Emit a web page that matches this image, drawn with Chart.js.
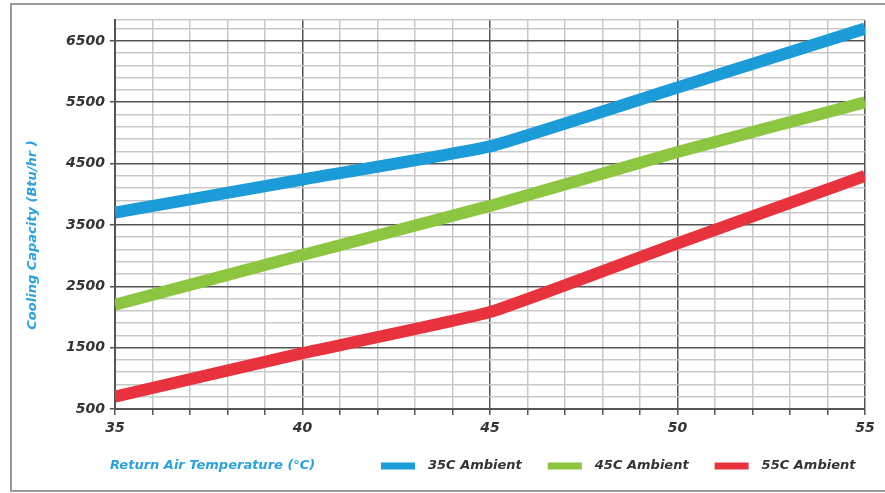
<!DOCTYPE html>
<html>
<head>
<meta charset="utf-8">
<script src="https://cdn.jsdelivr.net/npm/chart.js@4.4.1/dist/chart.umd.min.js"></script>
<style>
  html, body { margin: 0; padding: 0; background: #fff; }
  #wrap { width: 885px; height: 493px; position: relative; }
</style>
</head>
<body>
<div id="wrap"><canvas id="capacity-chart"></canvas></div>
<script>
var TEMPS = [35, 40, 45, 50, 55];
var CAP_35 = [3700, 4240, 4780, 5740, 6700];
var CAP_45 = [2200, 3010, 3810, 4690, 5500];
var CAP_55 = [700, 1410, 2080, 3200, 4300];

var SERIES_LABELS = ['35C Ambient', '45C Ambient', '55C Ambient'];
var SERIES_COLORS = ['#1b9bd7', '#8cc540', '#e8323e'];

var X_LABELS = [35, 40, 45, 50, 55];
var Y_LABELS = [500, 1500, 2500, 3500, 4500, 5500, 6500];
var Y_MIN = 500;
var Y_MAX = 6840;
var Y_STEP = 200;

var X_TITLE = 'Return Air Temperature (°C)';
var Y_TITLE = 'Cooling Capacity (Btu/hr )';

var TICK_FONT = { family: 'DejaVu Sans', size: 14, weight: 'bold', style: 'italic' };
var TITLE_BLUE = '#2ba2dc';
var MAJOR = '#555555';
var MINOR = '#c9c9c9';

function toPoints(values) {
  return values.map(function (v, i) { return { x: TEMPS[i], y: v }; });
}

function makeDataset(i, values) {
  return {
    label: SERIES_LABELS[i],
    data: toPoints(values),
    borderColor: SERIES_COLORS[i],
    backgroundColor: SERIES_COLORS[i],
    borderWidth: 12,
    pointRadius: 0,
    tension: 0.12,
    clip: 0,
  };
}

// frame, axis titles and the legend row
var chartDecor = {
  id: 'chartDecor',
  beforeDraw: function (chart) {
    var ctx = chart.ctx;
    ctx.save();
    ctx.fillStyle = '#fff';
    ctx.fillRect(0, 0, chart.width, chart.height);
    ctx.strokeStyle = '#9a9a9a';
    ctx.lineWidth = 2;
    ctx.strokeRect(11, 4, 890, 487);
    ctx.restore();
  },
  afterDraw: function (chart) {
    var ctx = chart.ctx;
    var rowY = 466;
    ctx.save();
    ctx.font = 'italic bold 13px "DejaVu Sans"';
    ctx.textBaseline = 'middle';

    ctx.fillStyle = TITLE_BLUE;
    ctx.textAlign = 'left';
    ctx.fillText(X_TITLE, 110, rowY);

    ctx.save();
    ctx.translate(33, 235);
    ctx.rotate(-Math.PI / 2);
    ctx.textAlign = 'center';
    ctx.fillText(Y_TITLE, 0, 0);
    ctx.restore();

    var x = 381;
    chart.data.datasets.forEach(function (ds) {
      ctx.fillStyle = ds.borderColor;
      ctx.fillRect(x, rowY - 3.5, 34, 7);
      x += 34 + 13;
      ctx.fillStyle = '#333';
      ctx.textAlign = 'left';
      ctx.fillText(ds.label, x, rowY);
      x += ctx.measureText(ds.label).width + 26;
    });
    ctx.restore();
  },
};

var ctx = document.getElementById('capacity-chart').getContext('2d');
var capacityChart = new Chart(ctx, {
  type: 'line',
  data: {
    datasets: [
      makeDataset(0, CAP_35),
      makeDataset(1, CAP_45),
      makeDataset(2, CAP_55),
    ],
  },
  options: {
    responsive: true,
    maintainAspectRatio: false,
    animation: false,
    layout: { padding: { top: 20, right: 20, left: 0, bottom: 0 } },
    plugins: {
      legend: { display: false },
      tooltip: { enabled: false },
    },
    scales: {
      x: {
        type: 'linear',
        min: 35,
        max: 55,
        afterFit: function (scale) { scale.height = 84; },
        ticks: {
          stepSize: 1,
          autoSkip: false,
          maxRotation: 0,
          padding: 5,
          color: '#333',
          font: TICK_FONT,
          callback: function (v) { return X_LABELS.indexOf(v) >= 0 ? v : ''; },
        },
        grid: {
          color: function (c) { return c.tick && X_LABELS.indexOf(c.tick.value) >= 0 ? MAJOR : MINOR; },
          lineWidth: 1.5,
          tickColor: MAJOR,
          tickLength: 6,
        },
        border: { color: MAJOR, width: 2 },
      },
      y: {
        min: Y_MIN,
        max: Y_MAX,
        afterFit: function (scale) { scale.width = 115; },
        afterBuildTicks: function (scale) {
          var ticks = [];
          for (var v = Y_MIN; v <= Y_MAX; v += Y_STEP) ticks.push({ value: v });
          ticks.push({ value: Y_MAX });
          scale.ticks = ticks;
        },
        ticks: {
          autoSkip: false,
          padding: 5,
          color: '#333',
          font: TICK_FONT,
          callback: function (v) { return Y_LABELS.indexOf(v) >= 0 ? v : ''; },
        },
        grid: {
          color: function (c) { return c.tick && Y_LABELS.indexOf(c.tick.value) >= 0 ? MAJOR : MINOR; },
          lineWidth: 1.5,
          tickColor: function (c) { return c.tick && Y_LABELS.indexOf(c.tick.value) >= 0 ? MAJOR : 'rgba(0,0,0,0)'; },
          tickLength: 5,
        },
        border: { color: MAJOR, width: 2 },
      },
    },
  },
  plugins: [chartDecor],
});
</script>
</body>
</html>
